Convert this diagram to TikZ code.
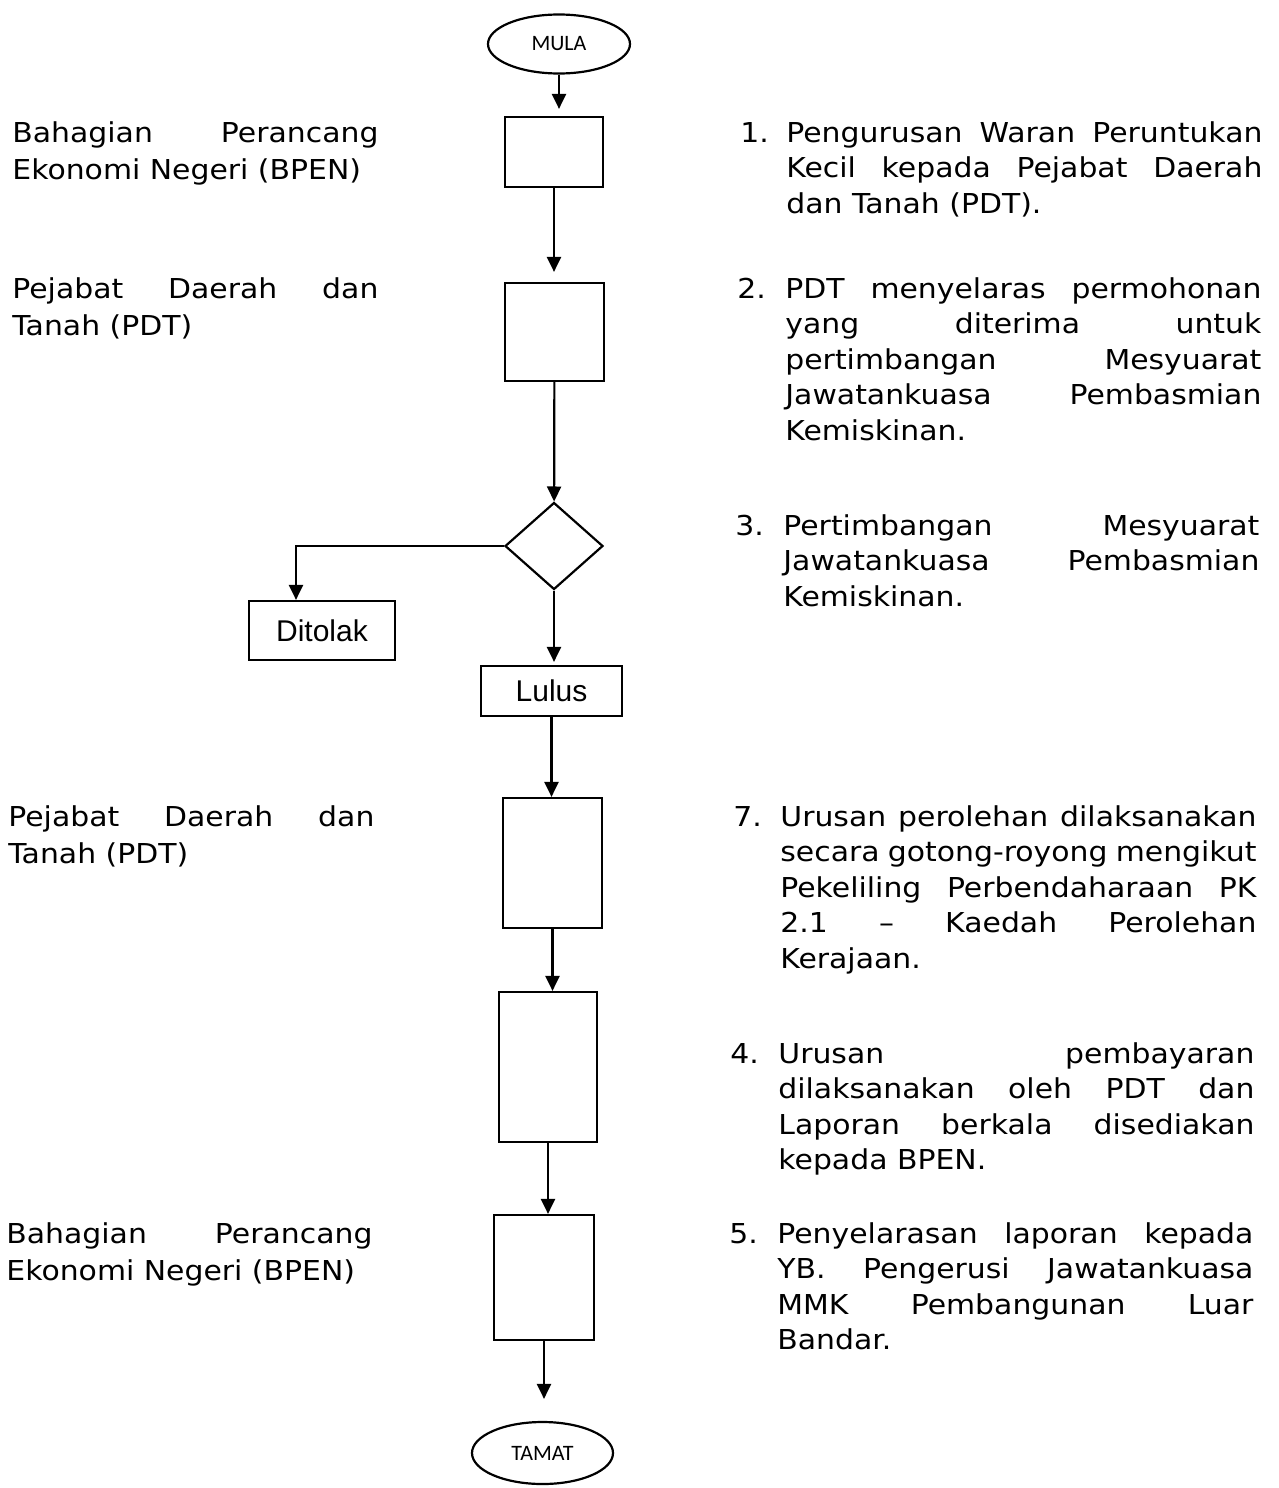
\documentclass[tikz,border=0pt]{standalone}
\usepackage{fontspec}
\setmainfont{Liberation Sans}
\newfontfamily\verd[FakeStretch=1.09]{DejaVu Sans}
\newfontfamily\cali{Carlito}
\usetikzlibrary{shapes.geometric,arrows.meta}
\hbadness=10000
\begin{document}
\begin{tikzpicture}[x=0.5pt,y=-0.5pt,
	kotak/.style={draw,line width=1.1pt,inner sep=0pt},
	panah/.style={-{Triangle[length=7.5pt,width=7pt]},line width=1.1pt},
	kiri/.style={anchor=base west,inner sep=0pt,text width=183pt,align=justify,font=\verd\fontsize{13.7pt}{18.5pt}\selectfont},
	kanan/.style={anchor=base west,inner sep=0pt,text width=238pt,align=justify,font=\verd\fontsize{13.7pt}{17.8pt}\selectfont},
	nombor/.style={anchor=base west,inner sep=0pt,font=\verd\fontsize{13.7pt}{17.8pt}\selectfont}]
	\useasboundingbox (0,0) rectangle (1279,1488);
	% carta alir
	\node[kotak,ellipse,minimum width=71pt,minimum height=29.5pt,font=\cali\fontsize{11pt}{13pt}\selectfont] (mula) at (559,44) {MULA};
	\node[kotak,minimum width=49pt,minimum height=35pt] (b1) at (554,152) {};
	\node[kotak,minimum width=49.5pt,minimum height=49pt] (b2) at (554.5,332) {};
	\node[kotak,diamond,minimum width=49pt,minimum height=43.5pt] (putus) at (554,546) {};
	\node[kotak,minimum width=73pt,minimum height=29.5pt,font=\fontsize{15pt}{17pt}\selectfont] (tolak) at (322,630.5) {Ditolak};
	\node[kotak,minimum width=70.5pt,minimum height=25pt,font=\fontsize{15pt}{17pt}\selectfont] (lulus) at (551.5,691) {Lulus};
	\node[kotak,minimum width=49.5pt,minimum height=65pt] (b3) at (552.5,863) {};
	\node[kotak,minimum width=49pt,minimum height=75pt] (b4) at (548,1067) {};
	\node[kotak,minimum width=50pt,minimum height=62.5pt] (b5) at (544,1277.5) {};
	\node[kotak,ellipse,minimum width=70.5pt,minimum height=31pt,font=\cali\fontsize{11pt}{13pt}\selectfont] (tamat) at (542.5,1453) {TAMAT};
	\draw[panah,shorten >=3.5pt] (mula) -- (mula |- b1.north);
	\draw[panah,shorten >=5pt] (b1) -- (b1 |- b2.north);
	\draw[panah] (b2) -- (putus);
	\draw[panah] (putus.west) -| ([xshift=-13pt]tolak.north);
	\draw[panah,shorten >=1.5pt] (putus) -- (putus |- lulus.north);
	\draw[panah] (lulus) -- (lulus |- b3.north);
	\draw[panah] (b3) -- (b3 |- b4.north);
	\draw[panah] (b4) -- (b4 |- b5.north);
	\draw[panah,shorten >=11pt] (b5) -- (b5 |- tamat.north);
	% keterangan kiri
	\node[kiri] (k1) at (12,142) {Bahagian Perancang\linebreak Ekonomi Negeri (BPEN)};
	\node[kiri] (k2) at (12,298) {Pejabat Daerah dan\linebreak Tanah (PDT)};
	\node[kiri] (k3) at (8,826) {Pejabat Daerah dan\linebreak Tanah (PDT)};
	\node[kiri] (k4) at (6,1243) {Bahagian Perancang\linebreak Ekonomi Negeri (BPEN)};
	% keterangan kanan
	\node[nombor] (n1) at (740,142) {1.};
	\node[kanan] (t1) at (786,142) {Pengurusan Waran Peruntukan\linebreak Kecil kepada Pejabat Daerah\linebreak dan Tanah (PDT).};
	\node[nombor] (n2) at (737,298) {2.};
	\node[kanan] (t2) at (785,298) {PDT menyelaras permohonan\linebreak yang diterima untuk\linebreak pertimbangan Mesyuarat\linebreak Jawatankuasa Pembasmian\linebreak Kemiskinan.};
	\node[nombor] (n3) at (735,535) {3.};
	\node[kanan] (t3) at (783,535) {Pertimbangan Mesyuarat\linebreak Jawatankuasa Pembasmian\linebreak Kemiskinan.};
	\node[nombor] (n7) at (733,826) {7.};
	\node[kanan] (t7) at (780,826) {Urusan perolehan dilaksanakan\linebreak secara gotong-royong mengikut\linebreak Pekeliling Perbendaharaan PK\linebreak 2.1 – Kaedah Perolehan\linebreak Kerajaan.};
	\node[nombor] (n4) at (730,1063) {4.};
	\node[kanan] (t4) at (778,1063) {Urusan pembayaran\linebreak dilaksanakan oleh PDT dan\linebreak Laporan berkala disediakan\linebreak kepada BPEN.};
	\node[nombor] (n5) at (729,1243) {5.};
	\node[kanan] (t5) at (777,1243) {Penyelarasan laporan kepada\linebreak YB. Pengerusi Jawatankuasa\linebreak MMK Pembangunan Luar\linebreak Bandar.};
\end{tikzpicture}
\end{document}
